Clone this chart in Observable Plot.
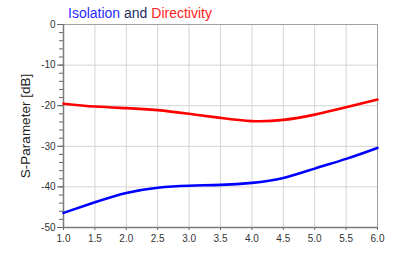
<!DOCTYPE html>
<html>
<head>
<meta charset="utf-8">
<script src="https://cdn.jsdelivr.net/npm/d3@7"></script>
<script src="https://cdn.jsdelivr.net/npm/@observablehq/plot@0.6"></script>
<style>
  body { margin: 0; background: #fff; font-family: "Liberation Sans", Arial, sans-serif; }
  #wrap { position: relative; width: 394px; }
  #title { position: relative; height: 16px; }
  #title span.t { position: absolute; left: 68px; top: 6px; font-size: 14px; white-space: nowrap; line-height: 1; }
</style>
</head>
<body>
<div id="wrap">
  <div id="title"><span class="t"><span style="color:#2b2bff">Isolation</span> <span style="color:#1f2d5e">and</span> <span style="color:#ff2222">Directivity</span></span></div>
  <div id="chart"></div>
</div>
<script>
const freq = [1.0, 1.5, 2.0, 2.5, 3.0, 3.5, 4.0, 4.5, 5.0, 5.5, 6.0];
const isolation = [-46.4, -43.8, -41.5, -40.2, -39.7, -39.5, -39.0, -37.8, -35.5, -33.1, -30.4];
const directivity = [-19.5, -20.2, -20.6, -21.1, -22.0, -23.0, -23.8, -23.5, -22.2, -20.4, -18.5];
const xTicks = [1.0, 1.5, 2.0, 2.5, 3.0, 3.5, 4.0, 4.5, 5.0, 5.5, 6.0];
const yTicks = [0, -10, -20, -30, -40, -50];
const yMinor = d3.range(0, -51, -2);

const iso = freq.map((f, i) => ({f, v: isolation[i]}));
const dir = freq.map((f, i) => ({f, v: directivity[i]}));

const chart = Plot.plot({
  width: 394,
  height: 242,
  marginLeft: 63,
  marginRight: 17,
  marginTop: 8,
  marginBottom: 31,
  style: {fontFamily: "'Liberation Sans', Arial, sans-serif", fontSize: "10px", color: "#333", background: "#fff"},
  x: {domain: [1, 6]},
  y: {domain: [-50, 0]},
  marks: [
    Plot.gridX(xTicks, {stroke: "#d4d4d4", strokeOpacity: 1}),
    Plot.gridY(yTicks, {stroke: "#d4d4d4", strokeOpacity: 1}),
    Plot.frame({stroke: "#a0a0a0"}),
    Plot.axisY(yMinor, {tickSize: 4, tickFormat: () => "", label: null, stroke: "#666"}),
    Plot.axisY(yTicks, {tickSize: 6, tickPadding: 2, stroke: "#666", fill: "#333", fontSize: 10,
      tickFormat: d => String(d),
      label: "S-Parameter [dB]", labelAnchor: "center", labelArrow: false, labelOffset: 43}),
    Plot.axisX(xTicks, {tickSize: 3, tickPadding: 4, stroke: "#666", fill: "#333", fontSize: 10,
      tickFormat: d => d.toFixed(1), label: null}),
    Plot.ruleX([1], {stroke: "#7a7a7a", strokeWidth: 1.5}),
    Plot.ruleY([-50], {stroke: "#7a7a7a", strokeWidth: 1.5}),
    Plot.line(dir, {x: "f", y: "v", stroke: "#ff0000", strokeWidth: 2.6, curve: "natural"}),
    Plot.line(iso, {x: "f", y: "v", stroke: "#0000ff", strokeWidth: 2.6, curve: "natural"})
  ]
});
chart.querySelectorAll("text").forEach(t => {
  if (t.textContent === "S-Parameter [dB]") { t.style.fontSize = "13.5px"; t.setAttribute("fill", "#222"); }
});
document.getElementById("chart").appendChild(chart);
</script>
</body>
</html>
